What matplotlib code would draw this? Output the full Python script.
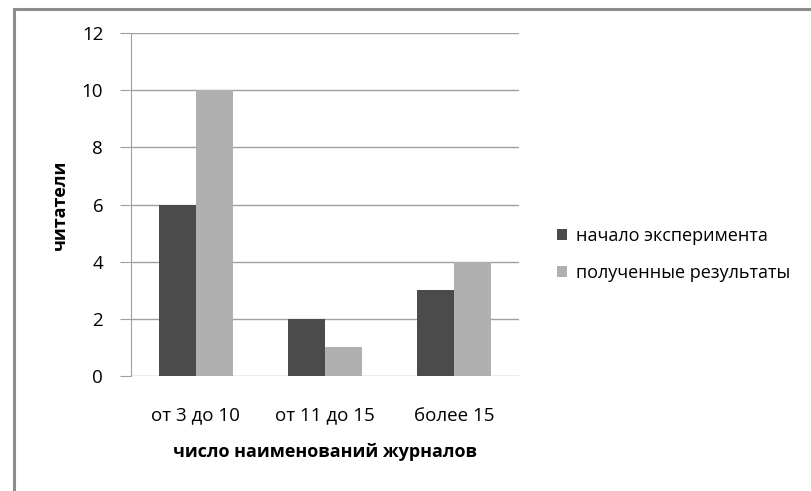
import numpy as np
import matplotlib.pyplot as plt
from matplotlib.patches import Rectangle

categories = ['от 3 до 10', 'от 11 до 15', 'более 15']
start_vals = [6, 2, 3]
result_vals = [10, 1, 4]
series_names = ['начало эксперимента', 'полученные результаты']
yticks = [0, 2, 4, 6, 8, 10, 12]

plt.rcParams['font.family'] = ['Open Sans', 'DejaVu Sans']

fig = plt.figure(figsize=(8.11, 4.91), dpi=100)
ax = fig.add_axes([131 / 811, 1 - 376 / 491, (519 - 131) / 811, (376 - 33) / 491])

# outer chart frame (runs off the right and bottom edges)
fig.patches.append(Rectangle((14 / 811, -0.05), 1.0, 1 - 9 / 491 + 0.05,
                             transform=fig.transFigure, fill=False,
                             edgecolor='#8c8c8c', linewidth=2.2))

x = np.arange(len(categories))
w = 0.286
ax.bar(x - w / 2, start_vals, w, color='#4b4b4b', label=series_names[0], zorder=3)
ax.bar(x + w / 2, result_vals, w, color='#b0b0b0', label=series_names[1], zorder=3)

ax.set_xlim(-0.5, 2.5)
ax.set_ylim(0, 12)
ax.set_yticks(yticks)
ax.yaxis.grid(True, color='#a0a0a0', linewidth=1)
ax.set_axisbelow(True)
for s in ['top', 'right', 'bottom']:
    ax.spines[s].set_visible(False)
ax.spines['left'].set_color('#a0a0a0')
ax.tick_params(axis='y', length=8, color='#a0a0a0', labelsize=13.5, pad=12)
ax.tick_params(axis='x', length=0, labelsize=13.5, pad=22)
ax.set_xticks(x)
ax.set_xticklabels(categories)

ax.set_xlabel('число наименований журналов', fontsize=13, fontweight='bold', labelpad=13)
ax.set_ylabel('читатели', fontsize=13, fontweight='bold', labelpad=9)

ax.legend(loc='center left', bbox_to_anchor=(1.055, 0.355), frameon=False,
          fontsize=13, handlelength=0.6, handleheight=0.6, handletextpad=0.5,
          labelspacing=1.05)

fig.savefig('out.png', dpi=100)
